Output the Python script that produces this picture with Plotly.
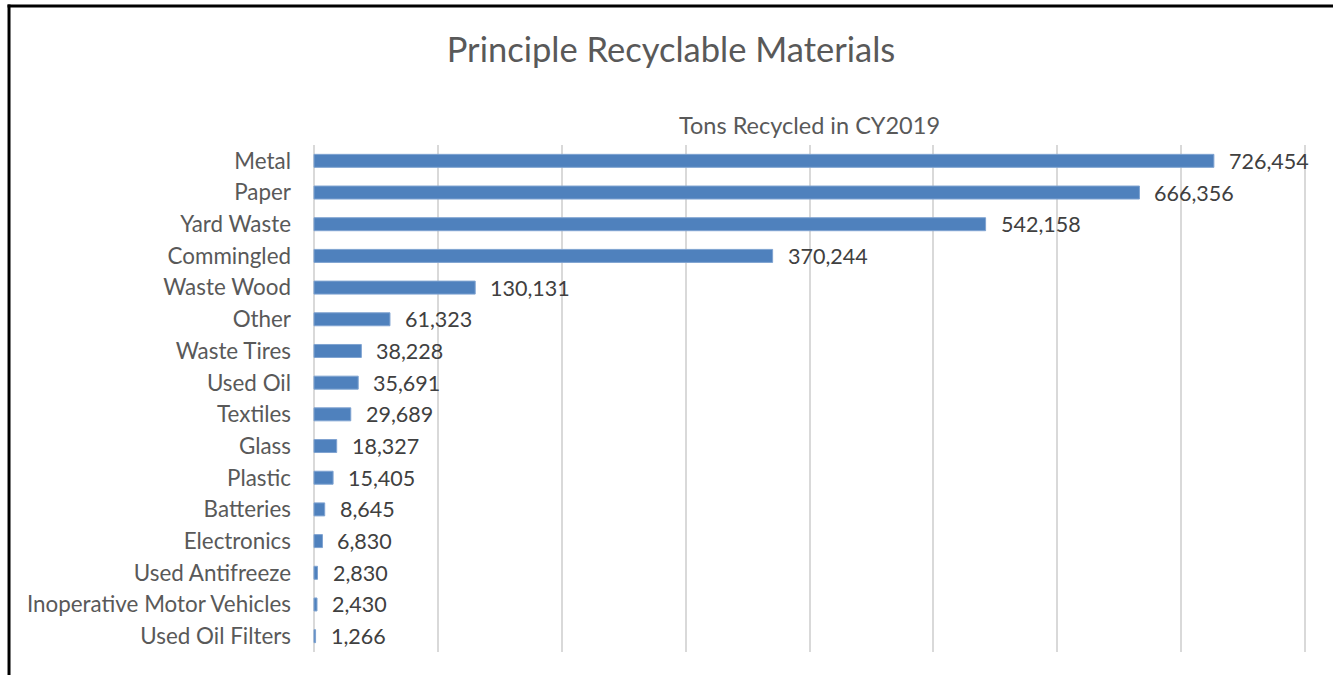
"""Principle Recyclable Materials - horizontal bar chart of tons recycled in CY2019."""

import plotly.graph_objects as go

# Data (top to bottom as shown)
materials = [
    "Metal",
    "Paper",
    "Yard Waste",
    "Commingled",
    "Waste Wood",
    "Other",
    "Waste Tires",
    "Used Oil",
    "Textiles",
    "Glass",
    "Plastic",
    "Batteries",
    "Electronics",
    "Used Antifreeze",
    "Inoperative Motor Vehicles",
    "Used Oil Filters",
]
tons = [
    726454, 666356, 542158, 370244, 130131, 61323, 38228, 35691,
    29689, 18327, 15405, 8645, 6830, 2830, 2430, 1266,
]

FONT = "Lato, 'Open Sans', Arial, sans-serif"
BAR_COLOR = "#4f81bd"
LABEL_COLOR = "#595959"
VALUE_COLOR = "#404040"

fig = go.Figure()

fig.add_trace(
    go.Bar(
        x=tons,
        y=materials,
        orientation="h",
        width=0.41,
        marker=dict(color=BAR_COLOR, line=dict(color="#7fa3d1", width=1)),
        hovertemplate="%{y}: %{x:,}<extra></extra>",
    )
)

# Data labels, offset a little right of each bar end
for name, value in zip(materials, tons):
    fig.add_annotation(
        x=value,
        y=name,
        text=f"{value:,}",
        showarrow=False,
        xanchor="left",
        xshift=13,
        font=dict(family=FONT, size=21.5, color=VALUE_COLOR),
    )

# Subtitle above the plot area
fig.add_annotation(
    text="Tons Recycled in CY2019",
    xref="paper",
    yref="paper",
    x=0.5,
    y=1.0 + 20 / 507,
    xanchor="center",
    yanchor="middle",
    showarrow=False,
    font=dict(family=FONT, size=23.5, color=LABEL_COLOR),
)

# Partial black frame (top and left edges)
frame = dict(color="black", width=3)
fig.add_shape(type="line", xref="paper", yref="paper",
              x0=-0.306, x1=1.05, y0=1.2742, y1=1.2742, line=frame)
fig.add_shape(type="line", xref="paper", yref="paper",
              x0=-0.3045, x1=-0.3045, y0=1.2772, y1=-0.1, line=frame)

fig.update_layout(
    width=1333,
    height=675,
    title=dict(
        text="Principle Recyclable Materials",
        x=671 / 1333,
        xanchor="center",
        y=1 - 50 / 675,
        yanchor="middle",
        font=dict(family=FONT, size=34.5, color=LABEL_COLOR),
    ),
    xaxis=dict(
        # padded by ~2px each side so the 0 and 800,000 gridlines are drawn
        range=[-1614.5, 801614.5],
        tick0=0,
        dtick=100000,
        showticklabels=False,
        showgrid=True,
        gridcolor="#d9d9d9",
        gridwidth=2,
        zeroline=False,
        showline=False,
        fixedrange=True,
    ),
    yaxis=dict(
        autorange="reversed",
        showgrid=False,
        zeroline=False,
        showline=False,
        ticks="",
        ticklabelstandoff=20,
        tickfont=dict(family=FONT, size=22.4, color=LABEL_COLOR),
        fixedrange=True,
    ),
    bargap=0.59,
    showlegend=False,
    margin=dict(l=312, r=26, t=145, b=23),
    plot_bgcolor="white",
    paper_bgcolor="white",
    font=dict(family=FONT),
)

# page has a default 8px body margin; remove it so the figure sits at (0, 0)
fig.write_html(
    "out.html",
    config={"displayModeBar": False},
    post_script="document.body.style.margin='0';",
)
